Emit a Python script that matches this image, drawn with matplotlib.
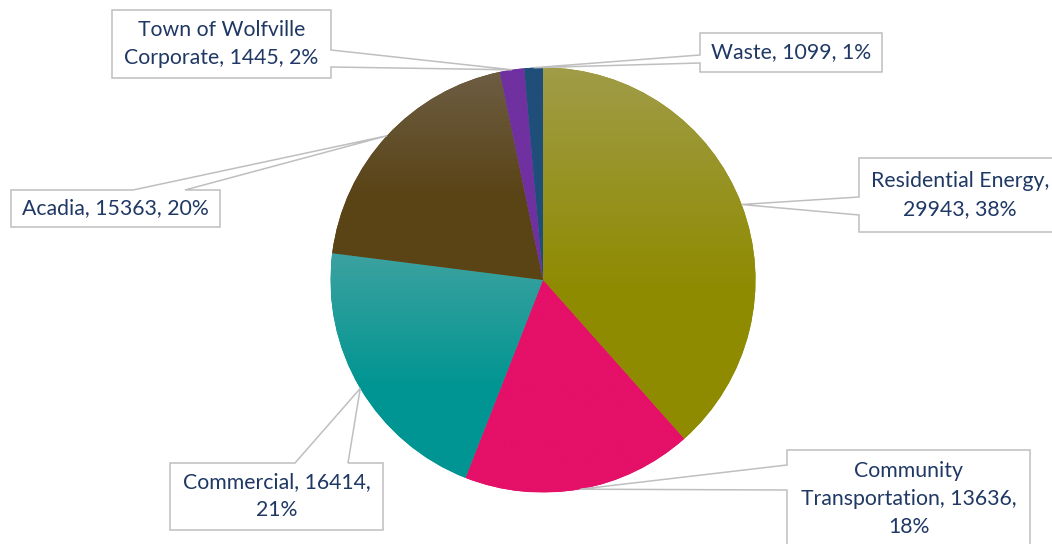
import matplotlib.pyplot as plt
import numpy as np
from matplotlib.patches import Polygon
from matplotlib.colors import to_rgb

# data
categories = ['Residential Energy', 'Community Transportation', 'Commercial',
              'Acadia', 'Town of Wolfville Corporate', 'Waste']
emissions = [29943, 13636, 16414, 15363, 1445, 1099]

# styling
base_colors = ['#8f8b00', '#e51068', '#009592', '#5a4416', '#7030a0', '#1f4e79']
light_colors = ['#a09c48', '#e51068', '#3ca2a0', '#6d5d43', '#7030a0', '#1f4e79']
text_color = '#1f3864'
box_edge = '#bfbfbf'

W, H = 1052, 544
CX, CY, R = 543, 280, 212.5   # pie in pixel coords (y down)

# callout layout (pixel coords, y down): box, pointer side, pointer base span, text template
callouts = [
    dict(box=(859, 158, 1061, 232), side='left', base=(197, 215), fmt='{n},\n{v}, {p}%'),
    dict(box=(787, 450, 1030, 548), side='left', base=(465, 490), fmt='Community\nTransportation, {v},\n{p}%'),
    dict(box=(170, 463, 383, 530), side='top', base=(295, 348), fmt='{n}, {v},\n{p}%'),
    dict(box=(11, 190, 220, 227), side='top', base=(133, 185), fmt='{n}, {v}, {p}%'),
    dict(box=(112, 10, 331, 78), side='right', base=(50, 67), fmt='Town of Wolfville\nCorporate, {v}, {p}%'),
    dict(box=(700, 33, 882, 72), side='left', base=(55, 63), fmt='{n}, {v}, {p}%'),
]

plt.rcParams['font.family'] = ['Lato', 'DejaVu Sans']

fig = plt.figure(figsize=(W / 100, H / 100), dpi=100)
ax = fig.add_axes([0, 0, 1, 1])

wedges, _ = ax.pie(emissions, colors=base_colors, startangle=90, counterclock=False,
                   center=(CX, H - CY), radius=R, frame=True,
                   wedgeprops=dict(linewidth=0))

# vertical gradient fill, lighter at the top of each slice
n = 256
t = np.linspace(0, 1, n)
f = np.clip(t / 0.6, 0, 1)[:, None]
for w, lc, bc in zip(wedges, light_colors, base_colors):
    ext = w.get_path().get_extents()
    grad = np.array(to_rgb(lc)) * (1 - f) + np.array(to_rgb(bc)) * f
    img = ax.imshow(grad[:, None, :].repeat(2, axis=1), extent=(ext.x0, ext.x1, ext.y0, ext.y1),
                    origin='upper', aspect='auto', zorder=2, interpolation='bilinear')
    img.set_clip_path(w)

ax.set_xlim(0, W)
ax.set_ylim(0, H)
ax.axis('off')

total = sum(emissions)
for w, name, val, c in zip(wedges, categories, emissions, callouts):
    ang = np.deg2rad((w.theta1 + w.theta2) / 2)
    tip = (w.center[0] + w.r * np.cos(ang), w.center[1] + w.r * np.sin(ang))
    x0, y0, x1, y1 = c['box']
    b1, b2 = c['base']
    if c['side'] == 'left':
        pts = [(x0, y0), (x1, y0), (x1, y1), (x0, y1), (x0, b2), 'tip', (x0, b1)]
    elif c['side'] == 'right':
        pts = [(x0, y0), (x1, y0), (x1, b1), 'tip', (x1, b2), (x1, y1), (x0, y1)]
    else:
        pts = [(x0, y0), (b1, y0), 'tip', (b2, y0), (x1, y0), (x1, y1), (x0, y1)]
    verts = [tip if p == 'tip' else (p[0], H - p[1]) for p in pts]
    ax.add_patch(Polygon(verts, closed=True, facecolor='white', edgecolor=box_edge,
                         linewidth=1.1, zorder=3))
    pct = round(100 * val / total)
    ax.text((x0 + x1) / 2, H - (y0 + y1) / 2, c['fmt'].format(n=name, v=val, p=pct),
            ha='center', va='center', ma='center', color=text_color, fontsize=15.3,
            linespacing=1.5, zorder=4)

fig.savefig('out.png', dpi=100, facecolor='white')
